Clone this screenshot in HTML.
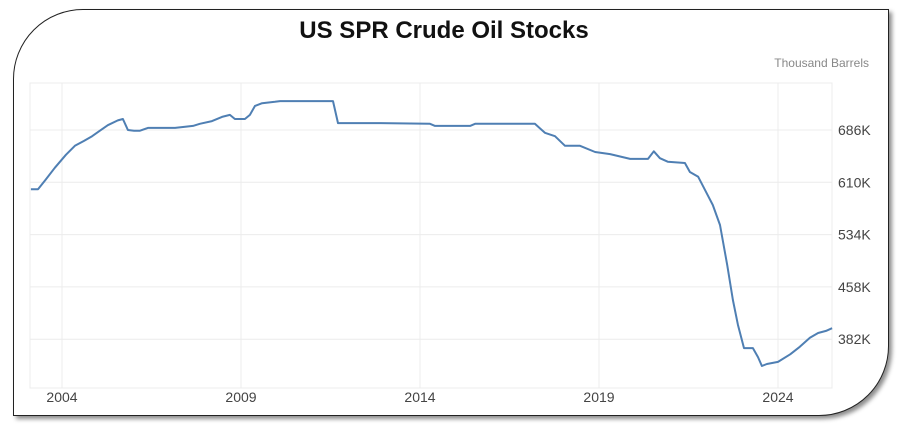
<!DOCTYPE html>
<html><head><meta charset="utf-8"><style>
html,body{margin:0;padding:0;background:#fff;width:900px;height:429px;overflow:hidden;font-family:"Liberation Sans",Arial,sans-serif}
#frame{position:absolute;left:13px;top:9px;width:874px;height:405px;border:1.5px solid #222;border-radius:70px 0 70px 0;box-shadow:3px 3px 4px rgba(0,0,0,0.45);background:#fff}
</style></head><body>
<div id="frame"></div>
<svg id="chart" width="900" height="429" style="position:absolute;left:0;top:0">
<text x="444" y="38" text-anchor="middle" font-size="24" font-weight="bold" fill="#111">US SPR Crude Oil Stocks</text>
<text x="869" y="67" text-anchor="end" font-size="12" fill="#888">Thousand Barrels</text>
<g id="grid"></g><g id="axes"></g><path id="line" fill="none" stroke="#4f7fb3" stroke-width="2" stroke-linejoin="round"></path>
</svg>
<script>
const years=[2003.13,2003.33,2003.53,2003.80,2004.11,2004.36,2004.61,2004.84,2005.06,2005.28,2005.56,2005.70,2005.84,2006.01,2006.18,2006.40,2006.74,2007.16,2007.66,2007.85,2008.19,2008.47,2008.69,2008.83,2009.11,2009.25,2009.39,2009.59,2009.95,2010.09,2011.57,2011.71,2012.88,2014.28,2014.42,2015.40,2015.54,2017.21,2017.49,2017.77,2018.05,2018.47,2018.89,2019.31,2019.87,2020.37,2020.53,2020.70,2020.92,2021.40,2021.54,2021.77,2021.96,2022.18,2022.38,2022.58,2022.74,2022.88,2023.05,2023.30,2023.44,2023.55,2023.69,2024.00,2024.34,2024.61,2024.89,2025.12,2025.34,2025.51];
const stocks=[600,600,613,631,650,663,670,677,685,693,700,702,686,685,685,689,689,689,692,695,699,705,708,702,702,708,721,725,727,728,728,696,696,695,692,692,695,695,682,677,663,663,654,651,644,644,655,645,640,638,625,618,599,577,548,490,439,403,369,369,356,343,346,349,360,371,384,391,394,398];
const yTicks=[686,610,534,458,382];
const xTicks=[2004,2009,2014,2019,2024];
const L=30,R=832,T=83,B=388;
function xs(y){return 62+(y-2004)*35.8;}
function ys(v){return 130+(686-v)*52.3/76;}
const ns="http://www.w3.org/2000/svg";
const grid=document.getElementById('grid'),axes=document.getElementById('axes');
function mk(tag,attrs,parent){const e=document.createElementNS(ns,tag);for(const k in attrs)e.setAttribute(k,attrs[k]);parent.appendChild(e);return e;}
const border=mk('rect',{x:L,y:T,width:R-L,height:B-T,fill:'none',stroke:'#ececec'},grid);


yTicks.forEach(v=>{
 const l=mk('line',{x1:L,x2:R,y1:ys(v),y2:ys(v),stroke:'#ececec'},grid);
 
 
 const t=mk('text',{x:838,y:ys(v)+5,'font-size':14,fill:'#444'},axes);
 t.textContent=v+'K';
 
 
});
xTicks.forEach(y=>{
 const l=mk('line',{x1:xs(y),x2:xs(y),y1:T,y2:B,stroke:'#ececec'},grid);
 
 
 const t=mk('text',{x:xs(y),y:402,'font-size':14,fill:'#444','text-anchor':'middle'},axes);
 t.textContent=y;
 
 
});
document.getElementById('line').setAttribute('d',years.map((y,i)=>(i?'L':'M')+xs(y).toFixed(1)+','+ys(stocks[i]).toFixed(1)).join(''));
</script>
</body></html>
